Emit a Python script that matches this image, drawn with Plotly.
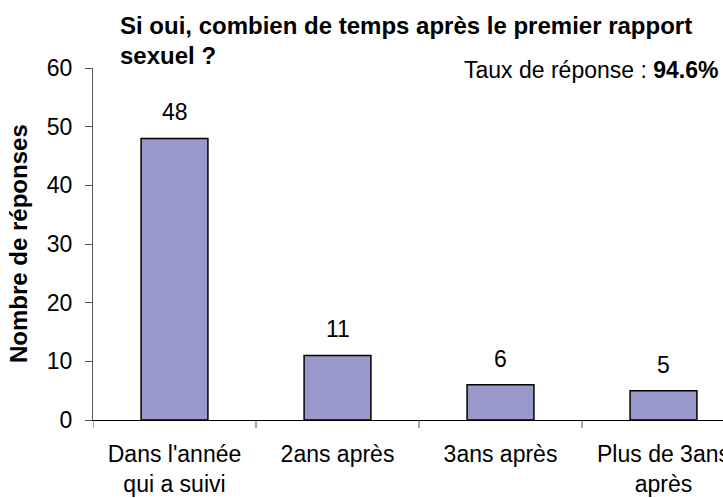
import plotly.graph_objects as go

categories = ["Dans l'année<br>qui a suivi", "2ans après", "3ans après", "Plus de 3ans<br>après"]
values = [48, 11, 6, 5]
y_ticks = [0, 10, 20, 30, 40, 50, 60]

title_lines = ["Si oui, combien de temps après le premier rapport", "sexuel ?"]
rate_label = "Taux de réponse : "
rate_value = "94.6%"
y_title = "Nombre de réponses"

FONT = "Liberation Sans, Arial, sans-serif"
FS = 23
FS_TITLE = 24
W, H = 723, 498
L, R, T, B = 93, 0, 68, 78
PW, PH = W - L - R, H - T - B


def px_x(x):
    return (x - L) / PW


def px_y(y):
    return (H - B - y) / PH


fig = go.Figure()
fig.add_trace(go.Bar(
    x=list(range(len(categories))),
    y=values,
    width=0.41,
    marker=dict(color="#9999CC", line=dict(color="#000000", width=1.5)),
    hoverinfo="skip",
))

for i, v in enumerate(values):
    fig.add_annotation(x=i, y=v, text=str(v), showarrow=False, yanchor="middle",
                       yshift=26, font=dict(family=FONT, size=FS, color="#000"))

# the category band is 163 px wide; the plot runs past the right edge of the canvas
cat_px = 163.0
right_val = -0.5 + PW / cat_px

fig.update_layout(
    width=W, height=H,
    margin=dict(l=L, r=R, t=T, b=B, autoexpand=False),
    paper_bgcolor="white", plot_bgcolor="white",
    showlegend=False,
    font=dict(family=FONT, size=FS, color="#000"),
    xaxis=dict(
        range=[-0.5, right_val],
        tickmode="array",
        tickvals=list(range(len(categories))),
        ticktext=categories,
        showline=True, linecolor="#000", linewidth=1,
        showgrid=False, zeroline=False,
        ticks="",
        tickfont=dict(family=FONT, size=FS, color="#000"),
        ticklabelstandoff=13,
        ticklabeloverflow="allow",
        automargin=False,
    ),
    yaxis=dict(
        range=[0, 60],
        tickmode="array", tickvals=y_ticks,
        showline=True, linecolor="#555", linewidth=1,
        ticks="outside", ticklen=7, tickcolor="#555",
        showgrid=False, zeroline=False,
        tickfont=dict(family=FONT, size=FS, color="#000"),
        ticklabelstandoff=8,
        automargin=False,
    ),
)

# category boundary ticks on the x axis
for b in [-0.5, 0.5, 1.5, 2.5]:
    fig.add_shape(type="line", xref="x", yref="y domain", x0=b, x1=b, y0=0, y1=-8 / PH,
                  line=dict(color="#555", width=1))

# title (two lines as in the reference)
fig.add_annotation(text="<b>" + title_lines[0] + "</b>", xref="paper", x=px_x(118), xanchor="left",
                   yref="paper", y=px_y(26), yanchor="middle", showarrow=False,
                   font=dict(family=FONT, size=FS_TITLE, color="#000"))
fig.add_annotation(text="<b>" + title_lines[1] + "</b>", xref="paper", x=px_x(118), xanchor="left",
                   yref="paper", y=px_y(56), yanchor="middle", showarrow=False,
                   font=dict(family=FONT, size=FS_TITLE, color="#000"))

# y axis title
fig.add_annotation(text="<b>" + y_title + "</b>", xref="paper", x=px_x(18), xanchor="center",
                   yref="paper", y=0.5, yanchor="middle", textangle=-90, showarrow=False,
                   font=dict(family=FONT, size=FS_TITLE, color="#000"))

fig.add_annotation(text=rate_label + "<b>" + rate_value + "</b>", xref="paper", x=px_x(720), xanchor="right",
                   yref="paper", y=px_y(70), yanchor="middle", showarrow=False,
                   font=dict(family=FONT, size=FS, color="#000"))

fig.write_html("out.html", config={"displayModeBar": False},
               post_script="document.body.style.margin='0';document.body.style.overflow='hidden';")
